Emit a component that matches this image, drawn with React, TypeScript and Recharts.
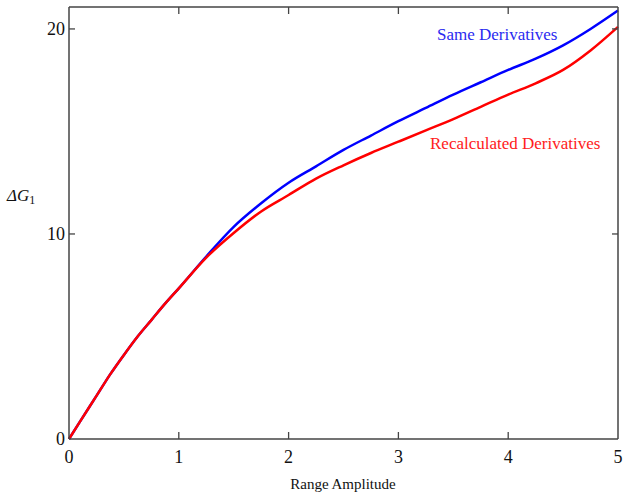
import { LineChart, Line, XAxis, YAxis } from 'recharts'

const amplitude = [0, 0.1, 0.25, 0.375, 0.5, 0.625, 0.75, 0.875, 1, 1.25, 1.5, 1.75, 2, 2.25, 2.5, 2.75, 3, 3.25, 3.5, 3.75, 4, 4.25, 4.5, 4.75, 5]
const sameDerivatives = [0, 0.85, 2.1, 3.15, 4.1, 5.0, 5.8, 6.6, 7.35, 8.9, 10.35, 11.5, 12.5, 13.3, 14.1, 14.8, 15.5, 16.15, 16.8, 17.4, 18.0, 18.55, 19.2, 20.0, 20.9]
const recalcDerivatives = [0, 0.85, 2.1, 3.15, 4.1, 5.0, 5.8, 6.6, 7.35, 8.85, 10.05, 11.1, 11.9, 12.7, 13.35, 13.95, 14.5, 15.05, 15.6, 16.2, 16.8, 17.35, 18.0, 18.95, 20.1]
const xTicks = [0, 1, 2, 3, 4, 5]
const yTicks = [0, 10, 20]

const data = amplitude.map((a, i) => ({ a, same: sameDerivatives[i], recalc: recalcDerivatives[i] }))

const FONT = '"Liberation Serif", "Times New Roman", serif'
const AXIS = '#444'

const BottomTick = (props: any) => {
  const { x, y, payload } = props
  const v = payload.value
  return (
    <g>
      {v !== 0 && v !== 5 && <line x1={x} y1={y} x2={x} y2={y - 7} stroke={AXIS} strokeWidth={1.3} />}
      <text x={x} y={y + 24} textAnchor="middle" fontFamily={FONT} fontSize={18} fill="#111">{v}</text>
    </g>
  )
}

const TopTick = (props: any) => {
  const { x, y, payload } = props
  const v = payload.value
  if (v === 0 || v === 5) return <g />
  return <line x1={x} y1={y} x2={x} y2={y + 7} stroke={AXIS} strokeWidth={1.3} />
}

const LeftTick = (props: any) => {
  const { x, y, payload } = props
  const v = payload.value
  return (
    <g>
      {v !== 0 && <line x1={x} y1={y} x2={x + 6} y2={y} stroke={AXIS} strokeWidth={1.3} />}
      <text x={x - 4} y={y + 6} textAnchor="end" fontFamily={FONT} fontSize={18} fill="#111">{v}</text>
    </g>
  )
}

const RightTick = (props: any) => {
  const { x, y, payload } = props
  if (payload.value === 0) return <g />
  return <line x1={x} y1={y} x2={x - 6} y2={y} stroke={AXIS} strokeWidth={1.3} />
}

export default function App() {
  return (
    <div style={{ position: 'absolute', left: 0, top: 0, width: 626, height: 498, background: '#fff' }}>
      <LineChart width={626} height={498} data={data} margin={{ top: 6, right: 7, bottom: 0, left: 9 }}>
        <XAxis dataKey="a" type="number" domain={[0, 5]} ticks={xTicks} tickSize={0} tickMargin={0} tickLine={false}
          tick={BottomTick} height={59} stroke={AXIS} strokeWidth={1.5} interval={0} />
        <XAxis xAxisId="top" orientation="top" dataKey="a" type="number" domain={[0, 5]} ticks={xTicks} tickSize={0}
          tickMargin={0} tickLine={false} tick={TopTick} height={1} stroke={AXIS} strokeWidth={1.5} interval={0} />
        <YAxis type="number" domain={[0, 21.07]} ticks={yTicks} tickSize={0} tickMargin={0} tickLine={false}
          tick={LeftTick} width={60} stroke={AXIS} strokeWidth={1.5} interval={0} />
        <YAxis yAxisId="right" orientation="right" type="number" domain={[0, 21.07]} ticks={yTicks} tickSize={0}
          tickMargin={0} tickLine={false} tick={RightTick} width={1} stroke={AXIS} strokeWidth={1.5} interval={0} />
        <Line xAxisId="top" yAxisId="right" dataKey="same" type="monotone" stroke="none" dot={false}
          isAnimationActive={false} legendType="none" />
        <Line dataKey="same" type="monotone" stroke="#0000ff" strokeWidth={2.5} dot={false} isAnimationActive={false} />
        <Line dataKey="recalc" type="monotone" stroke="#ff0000" strokeWidth={2.5} dot={false} isAnimationActive={false} />
      </LineChart>
      <svg width={626} height={498} style={{ position: 'absolute', left: 0, top: 0, pointerEvents: 'none' }}>
        <text x={437} y={40} fontFamily={FONT} fontSize={17} fill="#2a2af0">Same Derivatives</text>
        <text x={430} y={149} fontFamily={FONT} fontSize={17} fill="#ff2020">Recalculated Derivatives</text>
        <text x={7} y={201} fontFamily={FONT} fontSize={17} fontStyle="italic" fill="#111">
          ΔG<tspan fontStyle="normal" fontSize={12} dy={3}>1</tspan>
        </text>
        <text x={343} y={489} textAnchor="middle" fontFamily={FONT} fontSize={15} fill="#111">Range Amplitude</text>
      </svg>
    </div>
  )
}
